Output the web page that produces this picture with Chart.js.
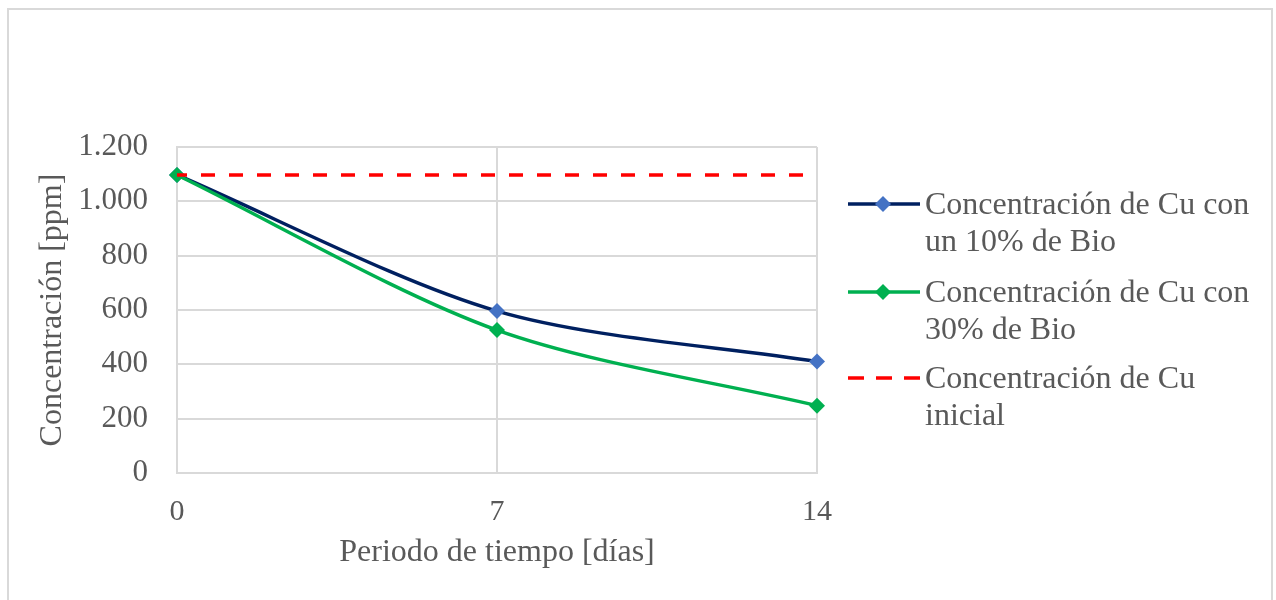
<!DOCTYPE html>
<html>
<head>
<meta charset="utf-8">
<script src="https://cdn.jsdelivr.net/npm/chart.js@4"></script>
<style>
  body { margin: 0; background: #fff; }
  #marco { position: absolute; left: 7px; top: 8px; width: 1266px; height: 600px; border: 2px solid #d9d9d9; box-sizing: border-box; }
  #wrap { position: absolute; left: 0; top: 0; width: 1276px; height: 600px; }
  .leyenda { position: absolute; left: 848px; font-family: 'Liberation Serif', 'Times New Roman', serif; font-size: 32px; line-height: 37px; color: #595959; }
  .leyenda svg { position: absolute; left: 0; top: 10px; }
  .leyenda span { display: block; margin-left: 77px; white-space: nowrap; }
</style>
</head>
<body>
<div id="marco"></div>
<div id="wrap"><canvas id="chart" width="1276" height="600"></canvas></div>

<div class="leyenda" style="top:185px">
  <svg width="72" height="18"><line x1="0" y1="9" x2="72" y2="9" stroke="#002060" stroke-width="3.5"/><polygon points="35,1 43,9 35,17 27,9" fill="#4472C4"/></svg>
  <span>Concentración de Cu con</span><span>un 10% de Bio</span>
</div>
<div class="leyenda" style="top:273px">
  <svg width="72" height="18"><line x1="0" y1="9" x2="72" y2="9" stroke="#00B050" stroke-width="3.5"/><polygon points="35,1 43,9 35,17 27,9" fill="#00B050"/></svg>
  <span>Concentración de Cu con</span><span>30% de Bio</span>
</div>
<div class="leyenda" style="top:359px">
  <svg width="72" height="18"><line x1="0" y1="9" x2="72" y2="9" stroke="#FF0000" stroke-width="3.5" stroke-dasharray="16 12"/></svg>
  <span>Concentración de Cu</span><span>inicial</span>
</div>

<script>
// datos
const dias = [0, 7, 14];
const cu10 = [1097, 596, 410];
const cu30 = [1097, 526, 248];
const diasInicial = [0, 14];
const cuInicial = [1097, 1097];
const etiquetas = ['Concentración de Cu con un 10% de Bio', 'Concentración de Cu con 30% de Bio', 'Concentración de Cu inicial'];

const familia = "'Liberation Serif', 'Times New Roman', serif";
const fuente = { family: familia, size: 32 };
const fuenteTicks = { family: familia, size: 31 };
const gris = '#595959';

const puntos = (xs, ys) => xs.map((x, i) => ({ x, y: ys[i] }));

const ctx = document.getElementById('chart').getContext('2d');
const chart = new Chart(ctx, {
    type: 'line',
    data: {
        datasets: [
            {
                label: etiquetas[0],
                data: puntos(dias, cu10),
                borderColor: '#002060',
                borderWidth: 3.5,
                pointStyle: 'rectRot',
                pointRadius: 8,
                pointBackgroundColor: '#4472C4',
                pointBorderWidth: 0,
                tension: 0.3,
                clip: false,
                order: 2,
            },
            {
                label: etiquetas[1],
                data: puntos(dias, cu30),
                borderColor: '#00B050',
                borderWidth: 3.5,
                pointStyle: 'rectRot',
                pointRadius: 8,
                pointBackgroundColor: '#00B050',
                pointBorderWidth: 0,
                tension: 0.3,
                clip: false,
                order: 1,
            },
            {
                label: etiquetas[2],
                data: puntos(diasInicial, cuInicial),
                borderColor: '#FF0000',
                borderWidth: 3.5,
                borderDash: [14, 14],
                borderDashOffset: 4,
                pointRadius: 0,
                order: 0,
            },
        ],
    },
    options: {
        responsive: false,
        animation: false,
        layout: { padding: { left: 0, top: 147, right: 459, bottom: 0 } },
        scales: {
            x: {
                type: 'linear',
                min: 0,
                max: 14,
                afterFit: (s) => { s.height = 127; },
                ticks: { stepSize: 7, color: gris, font: { family: familia, size: 30 }, padding: 21, maxRotation: 0 },
                grid: { color: '#d9d9d9', lineWidth: 2, drawTicks: false },
                border: { color: '#d9d9d9', width: 2 },
                title: { display: true, text: 'Periodo de tiempo [días]', color: gris, font: fuente, padding: { top: 0, bottom: 28 } },
            },
            y: {
                min: 0,
                max: 1200,
                afterFit: (s) => { s.width = 177; },
                ticks: {
                    stepSize: 200,
                    color: gris,
                    font: fuenteTicks,
                    padding: 29,
                    callback: (v) => String(v).replace(/\B(?=(\d{3})+(?!\d))/g, '.'),
                },
                grid: { color: '#d9d9d9', lineWidth: 2, drawTicks: false },
                border: { color: '#d9d9d9', width: 2 },
                title: { display: true, text: 'Concentración [ppm]', color: gris, font: fuente, padding: { top: 33, bottom: 0 } },
            },
        },
        plugins: {
            legend: { display: false },
            tooltip: { enabled: false },
        },
    },
});
</script>
</body>
</html>
